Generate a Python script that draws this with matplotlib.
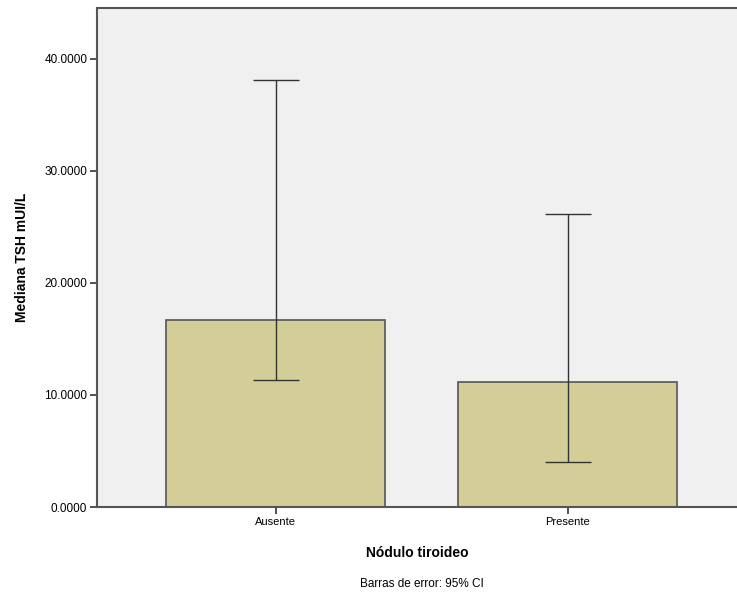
import numpy as np
from matplotlib import pyplot as plt

plt.rcParams['font.family'] = ['Liberation Sans', 'DejaVu Sans']

grupos = ['Ausente', 'Presente']
mediana = [16.7, 11.15]
ic_inf = [11.3, 4.0]
ic_sup = [38.1, 26.15]
y_ticks = [0, 10, 20, 30, 40]

fig = plt.figure(figsize=(7.37, 6.01), dpi=100)
ax = fig.add_axes([0.1316, 0.1564, 0.8684, 0.8303])
ax.set_facecolor('#f0f0f0')

x = np.arange(len(grupos))
err = [np.array(mediana) - np.array(ic_inf), np.array(ic_sup) - np.array(mediana)]
ax.bar(x, mediana, width=0.75, color='#d3ce97', edgecolor='#555555', linewidth=1.2, zorder=2)
ax.errorbar(x, mediana, yerr=err, fmt='none', ecolor='#333333', elinewidth=1,
            capsize=16.5, capthick=1, zorder=3)

ax.set_xlim(-0.613, 1.579)
ax.set_ylim(0, 44.55)
ax.set_xticks(x)
ax.set_xticklabels(grupos, fontsize=8)
ax.set_yticks(y_ticks)
ax.set_yticklabels(['%.4f' % v for v in y_ticks], fontsize=8.5)
ax.tick_params(axis='both', color='#333333', length=5, width=1.2, pad=2)

for s in ['left', 'bottom', 'top']:
    ax.spines[s].set_color('#555555')
    ax.spines[s].set_linewidth(1.5)
ax.spines['right'].set_visible(False)

ax.set_ylabel('Mediana TSH mUI/L', fontsize=10, fontweight='bold', labelpad=11)
ax.set_xlabel('Nódulo tiroideo', fontsize=10, fontweight='bold', labelpad=14)
fig.text(0.572, 0.018, 'Barras de error: 95% CI', ha='center', va='bottom', fontsize=8.5)

plt.savefig('out.png', dpi=100)
plt.close()
